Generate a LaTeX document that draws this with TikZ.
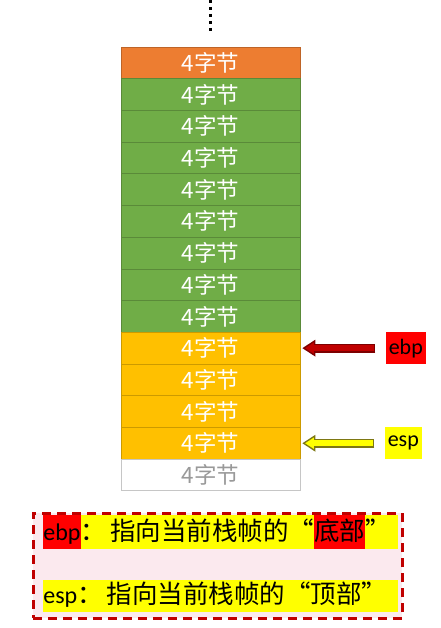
\documentclass[tikz,border=0pt]{standalone}
\usepackage{fontspec}
\setsansfont{Carlito}
\newfontfamily\cjk{Noto Sans CJK SC}
\usetikzlibrary{positioning, arrows.meta}
\definecolor{slotorange}{HTML}{ED7D31}
\definecolor{slotgreen}{HTML}{70AD47}
\definecolor{slotyellow}{HTML}{FFC000}
\definecolor{regred}{HTML}{FF0000}
\definecolor{regyellow}{HTML}{FFFF00}
\definecolor{arrowred}{HTML}{C00000}
\definecolor{notepink}{HTML}{FBE9EE}
\newcommand{\hlred}[1]{{\setlength{\fboxsep}{0pt}\colorbox{regred}{\rule[-9pt]{0pt}{34pt}#1}}}
\newcommand{\openq}{\makebox[1em][r]{“}}
\newcommand{\closeq}{\makebox[1em][l]{”}}

\tikzset{
  slot/.style={minimum width=179pt, minimum height=31.7pt, inner sep=0pt, line width=0.8pt,
    text=white, font=\cjk\fontsize{22.5}{24}\selectfont},
  reg/.style={minimum height=32pt, inner sep=0pt, font=\sffamily\fontsize{22}{24}\selectfont},
  ptrout/.style={line width=9pt, shorten <=10pt, shorten >=2pt,
    -{Triangle[width=17pt,length=13pt,line width=0pt]}},
  ptrin/.style={line width=6pt, shorten <=11.5pt, shorten >=4.75pt,
    -{Triangle[width=11.4pt,length=8.75pt,line width=0pt]}},
  noteline/.style={fill=regyellow, inner sep=0pt, anchor=west, text width=355pt, align=left,
    font=\cjk\fontsize{25.5}{28}\selectfont}
}

\begin{document}
\begin{tikzpicture}[x=1pt, y=-1pt, line width=0.8pt]
  \useasboundingbox (0,0) rectangle (440,628);

  % more stack above
  \coordinate (dtop) at (210,0);
  \coordinate (dbot) at (210,31);
  \draw[line width=3pt, dash pattern=on 3pt off 4pt] (dtop) -- (dbot);

  % the 4-byte slots
  \foreach \i/\c in {1/slotorange, 2/slotgreen, 3/slotgreen, 4/slotgreen, 5/slotgreen,
      6/slotgreen, 7/slotgreen, 8/slotgreen, 9/slotgreen, 10/slotyellow,
      11/slotyellow, 12/slotyellow, 13/slotyellow}{
    \node[slot, fill=\c, draw=\c!80!black] (s\i) at (210.5,{47+31.7*(\i-0.5)}) {4字节};
  }
  \node[slot, fill=white, draw=gray!45, text=gray!80] (s14) at (210.5,{47+31.7*13.5}) {4字节};

  % registers
  \node[reg, fill=regred, minimum width=40pt, right=85pt of s10] (ebp) {ebp};
  \node[reg, fill=regyellow, minimum width=37pt, right=84pt of s13] (esp) {esp};

  \draw[ptrout, draw=arrowred!65!black] (ebp.west) -- (s10.east);
  \draw[ptrin, draw=arrowred] (ebp.west) -- (s10.east);
  \draw[ptrout, draw=olive!85!black] (esp.west) -- (s13.east);
  \draw[ptrin, draw=regyellow] (esp.west) -- (s13.east);

  % note
  \node[draw=arrowred, fill=notepink, line width=3pt, dash pattern=on 9pt off 6pt,
    minimum width=369pt, minimum height=105pt] (note) at (217.5,565.5) {};
  \node[noteline] (ebpline) at (43,532)
    {\noindent\hlred{\sffamily\fontsize{24}{28}\selectfont ebp}：\hspace{4pt}指向当前栈帧的\openq\hlred{底部}\closeq};
  \node[noteline] (espline) at (43,596)
    {\noindent\rule[-9pt]{0pt}{32pt}{\sffamily\fontsize{24}{28}\selectfont esp}：\hspace{4pt}指向当前栈帧的\openq 顶部\closeq};
\end{tikzpicture}
\end{document}
